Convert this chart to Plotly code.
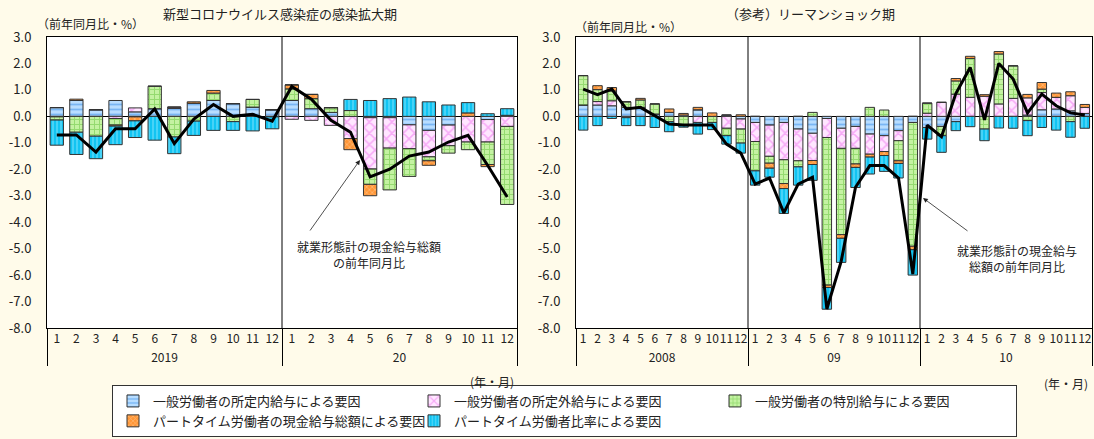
import plotly.graph_objects as go

W, H = 1094, 439

# ---------------- data ----------------
months = [str(m) for m in range(1, 13)]
covid_years = ["2019"] * 12 + ["20"] * 12
covid_months = months * 2
lehman_years = ["2008"] * 12 + ["09"] * 12 + ["10"] * 12
lehman_months = months * 3

series_names = [
    "一般労働者の所定内給与による要因",
    "一般労働者の所定外給与による要因",
    "一般労働者の特別給与による要因",
    "パートタイム労働者の現金給与総額による要因",
    "パートタイム労働者比率による要因",
]

# COVID-19 period (2019.1 - 2020.12)
covid_regular = [0.33, 0.60, 0.25, 0.60, 0.17, 0.29, 0.30, 0.50, 0.60, 0.48, 0.35, 0.25,
                 0.60, 0.29, 0.15, 0.00, -0.05, -0.05, -0.32, -0.53, -0.33, 0.00, -0.12, 0.04]
covid_overtime = [-0.02, 0.00, 0.00, -0.08, 0.15, 0.00, 0.05, 0.00, 0.00, 0.00, 0.00, 0.00,
                  -0.11, -0.15, -0.34, -0.84, -1.94, -1.15, -0.90, -1.00, -0.78, -0.97, -0.85, -0.38]
covid_bonus = [-0.12, -0.60, -0.75, -0.25, -0.02, 0.85, -0.78, -0.18, 0.28, -0.20, 0.29, -0.02,
               0.44, 0.38, 0.18, 0.22, -0.58, -1.58, -1.05, -0.15, -0.28, -0.29, -0.85, -2.95]
covid_parttime_wage = [0.00, 0.05, 0.00, -0.04, -0.15, 0.00, 0.00, 0.05, 0.10, 0.00, 0.00, 0.00,
                       0.15, 0.16, 0.00, -0.42, -0.43, 0.00, 0.00, -0.17, 0.00, 0.13, -0.08, 0.00]
covid_parttime_ratio = [-0.95, -0.84, -0.85, -0.70, -0.63, -0.90, -0.63, -0.54, -0.53, -0.33, -0.55, -0.45,
                        0.00, 0.00, 0.00, 0.42, 0.60, 0.67, 0.73, 0.55, 0.43, 0.39, 0.10, 0.25]
covid_total = [-0.70, -0.70, -1.35, -0.47, -0.47, 0.28, -1.03, -0.10, 0.45, 0.00, 0.08, -0.18,
               1.13, 0.65, -0.15, -0.60, -2.29, -2.00, -1.50, -1.35, -0.97, -0.72, -1.85, -3.05]

# Lehman shock period (2008.1 - 2010.12)
lehman_regular = [0.43, 0.43, 0.40, 0.34, 0.34, 0.09, 0.15, 0.00, 0.25, 0.00, 0.05, -0.10,
                  -0.23, -0.33, -0.23, -0.48, -0.64, -0.08, -0.45, -0.38, -0.67, -0.73, -0.54, -0.23,
                  -0.42, -0.38, -0.20, 0.00, 0.00, 0.00, 0.00, 0.05, 0.25, 0.28, 0.21, 0.11]
lehman_overtime = [0.00, 0.13, 0.19, -0.05, 0.00, 0.00, 0.00, 0.05, -0.23, 0.00, -0.45, -0.38,
                   -0.72, -1.18, -1.41, -1.20, -1.03, -0.72, -0.76, -0.83, -0.76, -0.60, -0.38, 0.00,
                   0.12, 0.53, 0.84, 0.72, 0.76, 0.47, 0.68, 0.65, 0.65, 0.44, 0.57, 0.23]
lehman_bonus = [1.11, 0.45, 0.37, 0.21, 0.28, 0.38, -0.20, -0.33, 0.00, -0.23, -0.28, -0.53,
                -1.11, -0.26, -0.90, -0.23, 0.15, -5.58, -3.26, -0.59, 0.34, 0.24, -0.76, -4.68,
                0.38, -0.35, 0.50, 1.47, -0.48, 1.89, 1.23, -0.16, 0.13, 0.00, -0.20, 0.00]
lehman_parttime_wage = [0.00, 0.15, 0.13, 0.00, 0.06, 0.00, 0.13, 0.06, 0.09, 0.13, 0.00, 0.06,
                        0.00, -0.19, -0.19, 0.00, -0.15, -0.09, -0.14, -0.13, -0.11, -0.15, -0.10, -0.13,
                        0.00, 0.00, 0.09, 0.08, 0.06, 0.09, 0.00, 0.13, 0.25, 0.16, 0.15, 0.11]
lehman_parttime_ratio = [-0.52, -0.35, -0.08, -0.30, -0.35, -0.42, -0.38, -0.08, -0.44, -0.27, -0.32, -0.38,
                         -0.54, -0.34, -0.94, -0.69, -0.60, -0.82, -0.91, -0.76, -0.64, -0.60, -0.55, -0.96,
                         -0.44, -0.63, -0.34, -0.39, -0.44, -0.44, -0.45, -0.57, -0.42, -0.52, -0.59, -0.45]
lehman_total = [1.03, 0.82, 1.03, 0.28, 0.34, 0.04, -0.29, -0.33, -0.33, -0.33, -1.05, -1.39,
                -2.56, -2.33, -3.65, -2.56, -2.30, -7.28, -5.48, -2.68, -1.86, -1.86, -2.33, -5.96,
                -0.33, -0.77, 0.86, 1.85, -0.13, 2.00, 1.41, 0.13, 0.84, 0.40, 0.13, 0.05]

ytick_vals = [3, 2, 1, 0, -1, -2, -3, -4, -5, -6, -7, -8]
ytick_text = ["3.0", "2.0", "1.0", "0.0", "-1.0", "-2.0", "-3.0", "-4.0", "-5.0", "-6.0", "-7.0", "-8.0"]

# ---------------- styles ----------------
FONT = "Noto Sans CJK JP, Noto Sans, sans-serif"
BG = "#FFFBEA"
styles = [
    dict(bg="#B8DDFF", fg="#3A90EA", shape="-", size=5),
    dict(bg="#FFE6FF", fg="#EE6EEE", shape="x", size=8),
    dict(bg="#C4F2A2", fg="#63C23C", shape="+", size=5),
    dict(bg="#FF9636", fg="#FFDDB8", shape="x", size=4),
    dict(bg="#12C4F2", fg="#A8EEFF", shape="|", size=4),
]

def px_x(p):
    return p / W

def px_y(p):
    return 1 - p / H

left_dom = [px_x(47), px_x(517)]
right_dom = [px_x(576), px_x(1092)]
y_dom = [px_y(328), px_y(37)]

fig = go.Figure()

covid_series = [covid_regular, covid_overtime, covid_bonus, covid_parttime_wage, covid_parttime_ratio]
lehman_series = [lehman_regular, lehman_overtime, lehman_bonus, lehman_parttime_wage, lehman_parttime_ratio]

for name, vals, st in zip(series_names, covid_series, styles):
    fig.add_trace(go.Bar(
        x=[covid_years, covid_months], y=vals, name=name, legendgroup=name,
        xaxis="x", yaxis="y", width=0.68,
        marker=dict(color=st["bg"], line=dict(color="#333333", width=1),
                    pattern=dict(shape=st["shape"], bgcolor=st["bg"], fgcolor=st["fg"],
                                 size=st["size"], solidity=0.35)),
        showlegend=True,
    ))
for name, vals, st in zip(series_names, lehman_series, styles):
    fig.add_trace(go.Bar(
        x=[lehman_years, lehman_months], y=vals, name=name, legendgroup=name,
        xaxis="x2", yaxis="y2", width=0.66,
        marker=dict(color=st["bg"], line=dict(color="#333333", width=1),
                    pattern=dict(shape=st["shape"], bgcolor=st["bg"], fgcolor=st["fg"],
                                 size=st["size"], solidity=0.35)),
        showlegend=False,
    ))

fig.add_trace(go.Scatter(x=[covid_years, covid_months], y=covid_total, mode="lines",
                         line=dict(color="black", width=3), xaxis="x", yaxis="y",
                         showlegend=False, name="就業形態計の現金給与総額の前年同月比"))
fig.add_trace(go.Scatter(x=[lehman_years, lehman_months], y=lehman_total, mode="lines",
                         line=dict(color="black", width=3), xaxis="x2", yaxis="y2",
                         showlegend=False, name="就業形態計の現金給与総額の前年同月比"))

xcommon = dict(type="multicategory", showline=True, linecolor="black", linewidth=1, mirror=True,
               showdividers=True, dividercolor="black", dividerwidth=1, tickangle=0,
               tickfont=dict(size=12, color="#222"), showgrid=False, ticks="", automargin=False)
ycommon = dict(range=[-8, 3], tickvals=ytick_vals, ticktext=ytick_text, showgrid=False,
               zeroline=True, zerolinecolor="black", zerolinewidth=1, showline=True,
               linecolor="black", linewidth=1, mirror=True, ticks="", ticklabelstandoff=12,
               tickfont=dict(size=13, color="#222"), domain=y_dom, automargin=False)

fig.update_layout(
    width=W, height=H, margin=dict(l=0, r=0, t=0, b=0, autoexpand=False),
    paper_bgcolor=BG, plot_bgcolor="white", barmode="relative",
    font=dict(family=FONT, size=12, color="#222"),
    xaxis=dict(domain=left_dom, anchor="y", **xcommon),
    yaxis=dict(anchor="x", **ycommon),
    xaxis2=dict(domain=right_dom, anchor="y2", **xcommon),
    yaxis2=dict(anchor="x2", **ycommon),
    legend=dict(orientation="h", x=px_x(112), y=px_y(437), xanchor="left", yanchor="bottom",
                bgcolor="white", bordercolor="#333", borderwidth=1,
                font=dict(size=13, family=FONT), entrywidth=256, entrywidthmode="pixels",
                itemwidth=30, tracegroupgap=0, traceorder="normal"),
)

# year separators inside plot areas
def sep_lines(dom, n_total, idxs):
    out = []
    for i in idxs:
        xp = dom[0] + (dom[1] - dom[0]) * i / n_total
        out.append(dict(type="line", xref="paper", yref="paper", x0=xp, x1=xp,
                        y0=y_dom[0], y1=y_dom[1], line=dict(color="black", width=1)))
    return out

shapes = sep_lines(left_dom, 24, [12]) + sep_lines(right_dom, 36, [12, 24])
fig.update_layout(shapes=shapes)

ann = []
def text_ann(text, xp, yp, size=12, xanchor="center"):
    ann.append(dict(text=text, x=px_x(xp), y=px_y(yp), xref="paper", yref="paper",
                    showarrow=False, xanchor=xanchor, yanchor="middle",
                    font=dict(size=size, family=FONT, color="#222")))

text_ann("新型コロナウイルス感染症の感染拡大期", 280, 14, 13)
text_ann("（参考）リーマンショック期", 810, 14, 13)
text_ann("（前年同月比・%）", 35, 24, 12, "left")
text_ann("（前年同月比・%）", 573, 26, 12, "left")
text_ann("(年・月)", 516, 381, 12, "right")
text_ann("(年・月)", 1090, 383, 12, "right")
text_ann("就業形態計の現金給与総額<br>の前年同月比", 369, 254, 12)
text_ann("就業形態計の現金給与<br>総額の前年同月比", 1017, 258, 12)

for hx, hy, tx, ty in [(360, 160, 309, 232), (923, 198, 969, 232)]:
    ann.append(dict(text="", x=px_x(hx), y=px_y(hy), xref="paper", yref="paper",
                    ax=tx - hx, ay=ty - hy, showarrow=True, arrowhead=2, arrowsize=1.2,
                    arrowwidth=0.8, arrowcolor="#222"))

fig.update_layout(annotations=ann)

fig.write_html(
    "out.html",
    config={"displayModeBar": False},
    post_script="document.body.style.margin='0';document.body.style.padding='0';"
                "document.documentElement.style.overflow='hidden';document.body.style.overflow='hidden';",
)
